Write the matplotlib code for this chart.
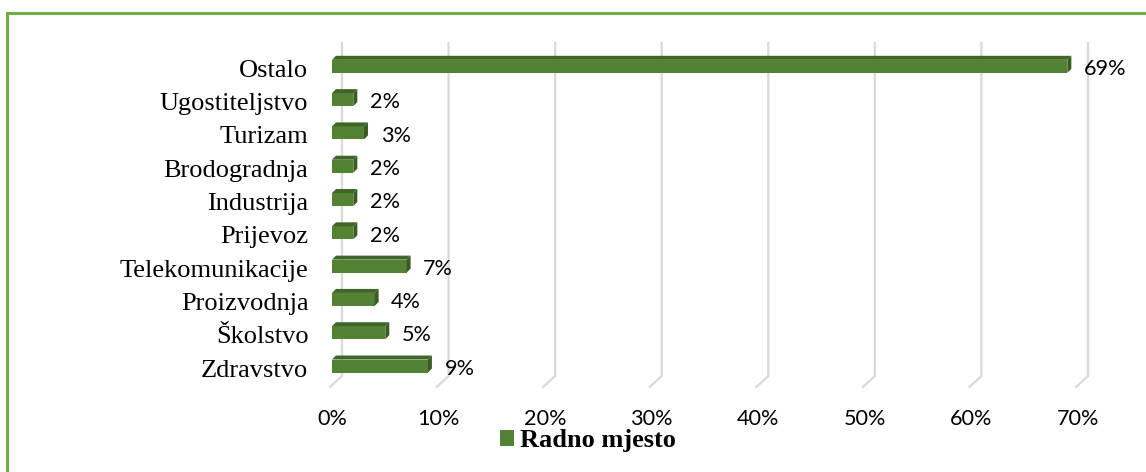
import matplotlib.pyplot as plt
from matplotlib.patches import Polygon, Rectangle
from matplotlib.transforms import ScaledTranslation

# data (bottom to top)
categories = ['Zdravstvo', 'Školstvo', 'Proizvodnja', 'Telekomunikacije', 'Prijevoz',
              'Industrija', 'Brodogradnja', 'Turizam', 'Ugostiteljstvo', 'Ostalo']
values = [9, 5, 4, 7, 2, 2, 2, 3, 2, 69]
ticks = [0, 10, 20, 30, 40, 50, 60, 70]
series_name = 'Radno mjesto'

W, H = 1146, 472
fig = plt.figure(figsize=(W / 100, H / 100), dpi=100)

# axes placed in pixels: left 332, right 1078, top 43, bottom 387
ax = fig.add_axes([332 / W, (H - 387) / H, 746 / W, 344 / H])
ax.set_xlim(0, 70)
ax.set_ylim(-0.63, 9.70)
for s in ax.spines.values():
    s.set_visible(False)
ax.tick_params(length=0)

# pixel -> data scale
xpp = 70 / 746
ypp = 10.33 / 344

front = '#548235'
top_c = '#3f6528'
side_c = '#3a5c24'
grid_c = '#d9d9d9'

# 3D-ish gridlines: back wall line plus slanted floor segment
for t in ticks:
    xb = t + 10 * xpp
    xf = t - 2 * xpp
    y_floor = -0.63 + 11 * ypp
    ax.plot([xb, xb, xf], [9.70, y_floor, -0.63], color=grid_c, lw=1.6,
            clip_on=False, zorder=1, solid_joinstyle='miter')

bar_h = 13 * ypp
dx, dy = 4 * xpp, 4 * ypp
bars = ax.barh(range(len(categories)), values, height=bar_h, color=front,
               zorder=3, label=series_name)
for i, v in enumerate(values):
    y0, y1 = i - bar_h / 2, i + bar_h / 2
    ax.add_patch(Polygon([(0, y1), (v, y1), (v + dx, y1 + dy), (dx, y1 + dy)],
                         closed=True, color=top_c, zorder=3, lw=0))
    ax.add_patch(Polygon([(v, y0), (v, y1), (v + dx, y1 + dy), (v + dx, y0 + dy)],
                         closed=True, color=side_c, zorder=3, lw=0))
    ax.annotate(f'{v}%', (v, i), xytext=(12, -2), textcoords='offset points',
                va='center', ha='left', fontsize=15.6, family='Lato', color='#000000')

ax.set_yticks(range(len(categories)))
ax.set_yticklabels(categories, family='Liberation Serif', fontsize=19)
ax.tick_params(axis='y', pad=17)
shift = ScaledTranslation(0, -2 / 100, fig.dpi_scale_trans)
for lab in ax.get_yticklabels():
    lab.set_transform(lab.get_transform() + shift)
ax.set_xticks(ticks)
ax.set_xticklabels([f'{t}%' for t in ticks], family='Lato', fontsize=15.6)
ax.tick_params(axis='x', pad=16)

fig.legend(handles=[bars], loc='center', bbox_to_anchor=(588 / W, (H - 441) / H),
           frameon=False, prop={'family': 'Liberation Serif', 'weight': 'bold', 'size': 19},
           handlelength=0.52, handleheight=0.52, handletextpad=0.25, borderpad=0)

# green frame (only top and left edges visible)
fig.patches.append(Rectangle((7 / W, -0.1), 1.2, 1.1 - 13 / H, transform=fig.transFigure,
                             fill=False, edgecolor='#70ad47', lw=2.2, zorder=10))

fig.savefig('out.png', dpi=100)
